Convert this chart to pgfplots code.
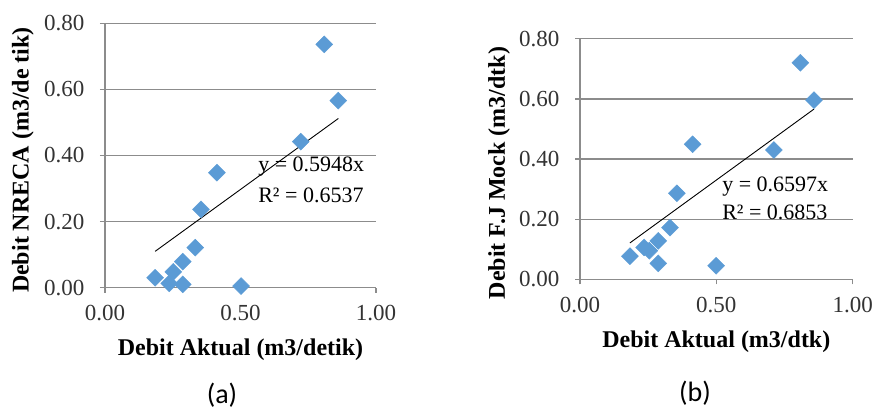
\documentclass[border=0pt]{standalone}
\usepackage{fontspec}
\setmainfont{Liberation Serif}
\newfontfamily\calib{Carlito}
\usepackage{pgfplots}
\pgfplotsset{compat=1.18}
\definecolor{mk}{HTML}{5B9BD5}
\definecolor{gr}{RGB}{140,140,140}
\tikzset{eqn/.style={font=\fontsize{22}{22}\selectfont, anchor=west, inner sep=0pt}}
\pgfplotsset{
  mystyle/.style={
    scale only axis,
    xmin=0, xmax=1, ymin=0, ymax=0.8,
    axis x line*=bottom, axis y line*=left,
    axis line style={gr, line width=1.3pt, -},
    xtick={0,0.5,1}, ytick={0,0.2,0.4,0.6,0.8},
    ymajorgrids, grid style={gr, line width=1.3pt},
    tick align=outside, major tick length=5pt,
    tick style={gr, line width=1.3pt},
    /pgf/number format/assume math mode=true,
    /pgf/number format/.cd, fixed, fixed zerofill, precision=2, /pgfplots/.cd,
    tick label style={font=\fontsize{23}{23}\selectfont, text=black!80},
    xticklabel style={yshift=-9pt},
    yticklabel style={xshift=-12pt},
    label style={font=\fontsize{24}{24}\selectfont\bfseries},
    clip=false,
  },
  pts/.style={only marks, mark=square*, mark size=6pt, mark options={rotate=45, fill=mk, draw=mk}},
  tl/.style={black, line width=0.9pt, no marks},
}
\begin{document}
\begin{tikzpicture}
\useasboundingbox (0,0) rectangle (874pt,-412pt);
\begin{axis}[mystyle, at={(105pt,-287.7pt)}, anchor=south west, width=271pt, height=264.4pt,
  xlabel={Debit Aktual (m3/detik)},
  xlabel style={at={(axis description cs:0.5,-0.236)}, anchor=center},
  ylabel={Debit NRECA  (m3/de tik)},
  ylabel style={at={(axis description cs:-0.303,0.483)}, anchor=center},
]
\addplot[pts] coordinates {
(0.185,0.030) (0.237,0.013) (0.252,0.048) (0.287,0.079) (0.287,0.010)
(0.333,0.121) (0.354,0.237) (0.413,0.348) (0.502,0.005) (0.722,0.442)
(0.809,0.736) (0.861,0.566)};
\addplot[tl] coordinates {(0.185,0.110) (0.861,0.512)};
\node[eqn] at (axis cs:0.565,0.368) {y = 0.5948x};
\node[eqn] at (axis cs:0.565,0.280) {R² = 0.6537};
\end{axis}
\begin{axis}[mystyle, at={(580pt,-279.3pt)}, anchor=south west, width=272.7pt, height=240.6pt,
  xlabel={Debit Aktual (m3/dtk)},
  xlabel style={at={(axis description cs:0.5,-0.261)}, anchor=center},
  ylabel={Debit F.J Mock (m3/dtk)},
  ylabel style={at={(axis description cs:-0.297,0.442)}, anchor=center},
]
\addplot[pts] coordinates {
(0.183,0.077) (0.235,0.106) (0.254,0.095) (0.287,0.128) (0.287,0.053)
(0.330,0.172) (0.355,0.286) (0.413,0.449) (0.499,0.045) (0.711,0.430)
(0.808,0.720) (0.858,0.596)};
\addplot[tl] coordinates {(0.183,0.121) (0.858,0.566)};
\node[eqn] at (axis cs:0.521,0.310) {y = 0.6597x};
\node[eqn] at (axis cs:0.521,0.224) {R² = 0.6853};
\end{axis}
\node[font=\calib\fontsize{28}{28}\selectfont] at (222pt,-395pt) {(a)};
\node[font=\calib\fontsize{28}{28}\selectfont] at (695pt,-393pt) {(b)};
\end{tikzpicture}
\end{document}
